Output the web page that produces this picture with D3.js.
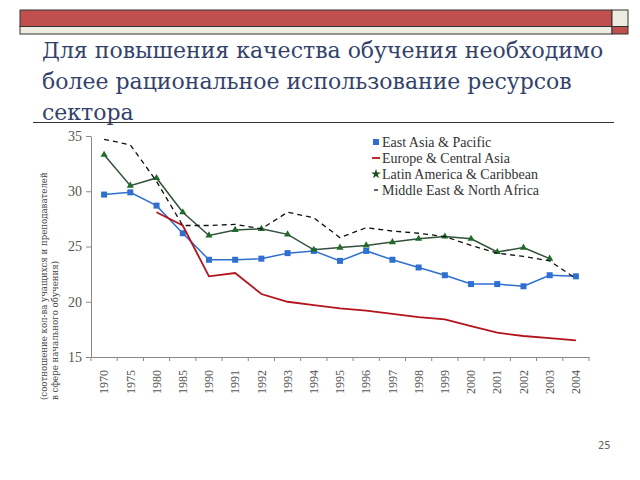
<!DOCTYPE html>
<html>
<head>
<meta charset="utf-8">
<script src="https://cdn.jsdelivr.net/npm/d3@7"></script>
<style>
  body { margin: 0; background: #fff; }
  svg { display: block; }
  .serif { font-family: "Liberation Serif", "Times New Roman", serif; }
  .title { font-family: "DejaVu Serif", serif; }
</style>
</head>
<body>
<div id="chart"></div>
<script>
// Data
const years = ["1970","1975","1980","1985","1990","1991","1992","1993","1994","1995",
               "1996","1997","1998","1999","2000","2001","2002","2003","2004"];
const eastAsia = [29.7,29.9,28.7,26.2,23.8,23.8,23.9,24.4,24.6,23.7,24.6,23.8,23.1,22.4,21.6,21.6,21.4,22.4,22.3];
const europe   = [null,null,28.1,26.9,22.3,22.6,20.7,20.0,19.7,19.4,19.2,18.9,18.6,18.4,17.8,17.2,16.9,16.7,16.5];
const latinAm  = [33.3,30.5,31.2,28.1,26.0,26.5,26.6,26.1,24.7,24.9,25.1,25.4,25.7,25.9,25.7,24.5,24.9,23.9,null];
const midEast  = [34.7,34.2,30.9,26.9,26.9,27.0,26.6,28.1,27.6,25.8,26.7,26.4,26.2,25.9,25.1,24.4,24.1,23.7,22.1];
const yTicks = [15, 20, 25, 30, 35];
const titleLines = ["Для повышения качества обучения необходимо",
                    "более рациональное использование ресурсов",
                    "сектора"];
const yTitleLines = ["(соотношение кол-ва учащихся и преподавателей",
                     "в сфере начального обучения)"];

const series = [
  { name: "East Asia & Pacific", values: eastAsia, color: "#2f6fd0", marker: "square", dash: null, width: 1.5 },
  { name: "Europe & Central Asia", values: europe, color: "#b3141b", marker: null, dash: null, width: 1.8 },
  { name: "Latin America & Caribbean", values: latinAm, color: "#33503a", marker: "triangle", dash: null, width: 1.5 },
  { name: "Middle East & North Africa", values: midEast, color: "#111", marker: null, dash: "5,4", width: 1.3 }
];

const W = 640, H = 480;
const svg = d3.select("#chart").append("svg")
    .attr("width", W).attr("height", H);

// Header bars
svg.append("rect").attr("x", 20).attr("y", 10).attr("width", 592).attr("height", 16.5)
    .attr("fill", "#c0504d").attr("stroke", "#333").attr("stroke-width", 1);
svg.append("rect").attr("x", 20).attr("y", 26.5).attr("width", 592).attr("height", 7.5)
    .attr("fill", "#eeece1").attr("stroke", "#333").attr("stroke-width", 1);
svg.append("rect").attr("x", 612).attr("y", 10).attr("width", 16).attr("height", 16.5)
    .attr("fill", "#eeece1").attr("stroke", "#333").attr("stroke-width", 1);
svg.append("rect").attr("x", 612).attr("y", 26.5).attr("width", 16).attr("height", 7.5)
    .attr("fill", "#c0504d").attr("stroke", "#333").attr("stroke-width", 1);

// Title
const title = svg.append("text")
    .attr("class", "title")
    .style("font-size", "22px")
    .attr("fill", "#33426b");
titleLines.forEach((t, i) => {
  title.append("tspan").attr("x", 42).attr("y", 58 + i * 31).text(t);
});
svg.append("line").attr("x1", 33).attr("x2", 614).attr("y1", 122.5).attr("y2", 122.5)
    .attr("stroke", "#333").attr("stroke-width", 1.2);

// Scales
const x = d3.scaleBand().domain(years).range([91, 589]);
const y = d3.scaleLinear().domain([15, 35]).range([357, 136]);

const axisColor = "#888";

// Y axis
const yAxis = svg.append("g")
    .attr("transform", "translate(91,0)")
    .call(d3.axisLeft(y).tickValues(yTicks).tickSize(5).tickSizeOuter(0));
yAxis.attr("font-family", null);
yAxis.selectAll("text")
    .attr("class", "serif")
    .attr("font-size", 14).attr("fill", "#555").attr("dx", "-1");
yAxis.selectAll("line, path").attr("stroke", axisColor);

// X axis: ticks at band boundaries
const xAxis = svg.append("g")
    .attr("transform", "translate(0,357)")
    .call(d3.axisBottom(x).tickSize(0).tickSizeOuter(0));
xAxis.attr("font-family", null);
xAxis.select("path").attr("stroke", axisColor);
xAxis.selectAll("text")
    .attr("class", "serif")
    .attr("font-size", 12).attr("fill", "#555")
    .attr("transform", "rotate(-90)")
    .attr("text-anchor", "end")
    .attr("x", -13).attr("y", 0).attr("dy", "0.35em");
xAxis.selectAll(".boundary")
    .data(years.concat(["end"]))
    .join("line")
    .attr("class", "boundary")
    .attr("x1", (d, i) => x.range()[0] + i * x.step())
    .attr("x2", (d, i) => x.range()[0] + i * x.step())
    .attr("y1", 0).attr("y2", 4)
    .attr("stroke", axisColor);

// Y axis title
const yTitle = svg.append("text")
    .attr("class", "title")
    .attr("font-size", 8.6)
    .attr("fill", "#444")
    .attr("transform", "translate(0,400) rotate(-90)");
yTitleLines.forEach((t, i) => {
  yTitle.append("tspan").attr("x", 0).attr("y", 47 + i * 10.5).text(t);
});

// Lines
const cx = i => x(years[i]) + x.bandwidth() / 2;
const line = d3.line()
    .defined(d => d.v != null)
    .x(d => cx(d.i))
    .y(d => y(d.v));

series.forEach(s => {
  const pts = s.values.map((v, i) => ({ v, i }));
  svg.append("path")
      .datum(pts)
      .attr("fill", "none")
      .attr("stroke", s.color)
      .attr("stroke-width", s.width)
      .attr("stroke-dasharray", s.dash)
      .attr("d", line);
  const valid = pts.filter(d => d.v != null);
  if (s.marker === "square") {
    svg.selectAll(null).data(valid).join("rect")
        .attr("x", d => cx(d.i) - 3).attr("y", d => y(d.v) - 3)
        .attr("width", 6).attr("height", 6)
        .attr("fill", s.color);
  } else if (s.marker === "triangle") {
    svg.selectAll(null).data(valid).join("path")
        .attr("transform", d => `translate(${cx(d.i)},${y(d.v)})`)
        .attr("d", d3.symbol(d3.symbolTriangle, 22))
        .attr("fill", "#1f6b2a");
  }
});

// Legend
const legend = svg.append("g").attr("transform", "translate(376,142)");
series.forEach((s, i) => {
  const g = legend.append("g").attr("transform", `translate(0,${i * 16})`);
  if (s.marker === "square") {
    g.append("rect").attr("x", -3).attr("y", -3).attr("width", 6).attr("height", 6).attr("fill", s.color);
  } else if (s.marker === "triangle") {
    g.append("path").attr("d", d3.symbol(d3.symbolStar, 30)).attr("fill", "#1f4d24");
  } else if (s.dash) {
    g.append("line").attr("x1", -2).attr("x2", 2).attr("y1", 0).attr("y2", 0)
        .attr("stroke", s.color).attr("stroke-width", 1.3);
  } else {
    g.append("line").attr("x1", -4).attr("x2", 4).attr("y1", 0).attr("y2", 0)
        .attr("stroke", s.color).attr("stroke-width", 1.8);
  }
  g.append("text")
      .attr("class", "serif")
      .attr("x", 6).attr("y", 0).attr("dy", "0.35em")
      .attr("font-size", 14)
      .attr("fill", "#333")
      .text(s.name);
});

// Slide number
svg.append("text")
    .attr("x", 598).attr("y", 449)
    .attr("font-family", "'DejaVu Sans', sans-serif")
    .attr("font-size", 10)
    .attr("fill", "#666")
    .text("25");
</script>
</body>
</html>
